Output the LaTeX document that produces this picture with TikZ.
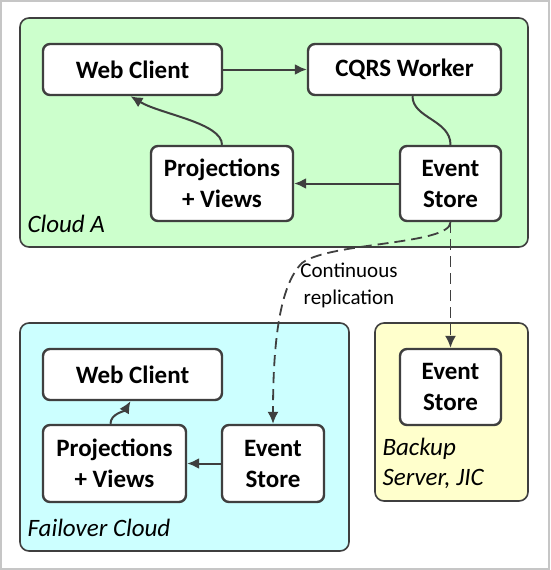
\documentclass[tikz,border=0pt]{standalone}
\usepackage{fontspec}
\setmainfont{Carlito}
\usetikzlibrary{arrows.meta}
\definecolor{linegray}{HTML}{3F3F3F}
\definecolor{cloudgreen}{HTML}{CCFFCC}
\definecolor{cloudcyan}{HTML}{CCFFFF}
\definecolor{backupyellow}{HTML}{FFFFCC}
\begin{document}
\begin{tikzpicture}[x=1pt,y=-1pt,
    box/.style={draw=linegray, line width=2.4pt, rounded corners=7pt, fill=white,
        align=center, inner sep=0pt, font=\bfseries\fontsize{25}{31}\selectfont},
    area/.style={draw=linegray, line width=1.6pt, rounded corners=9pt},
    arealabel/.style={anchor=west, align=left, font=\itshape\fontsize{25}{30}\selectfont},
    conn/.style={draw=linegray, line width=2pt, -{Latex[length=12pt,width=11pt]}},
    dconn/.style={conn, line width=1.8pt, dash pattern=on 11pt off 6pt}]
    \useasboundingbox (0,0) rectangle (550,570);
    \draw[gray!45, line width=2pt] (1,1) rectangle (549,569);
    % Les zones
    \draw[area, fill=cloudgreen] (20,18) rectangle (528,247);
    \draw[area, fill=cloudcyan] (20,323) rectangle (349,551);
    \draw[area, fill=backupyellow] (375,323) rectangle (528,501);
    \node[arealabel] (lblA) at (24,224) {Cloud A};
    \node[arealabel] (lblF) at (24,528) {Failover Cloud};
    \node[arealabel] (lblB) at (379,463) {Backup\\Server, JIC};
    % Cloud A
    \node[box, minimum width=179pt, minimum height=51pt] (webA) at (132.5,69.5) {Web Client};
    \node[box, minimum width=193pt, minimum height=51pt] (cqrs) at (404.5,69.5) {CQRS Worker};
    \node[box, minimum width=142pt, minimum height=75pt] (projA) at (222,183.5) {Projections\\+ Views};
    \node[box, minimum width=101pt, minimum height=75pt] (storeA) at (450.5,183.5) {Event\\Store};
    % Failover Cloud
    \node[box, minimum width=179pt, minimum height=51pt] (webF) at (132.5,374.5) {Web Client};
    \node[box, minimum width=143pt, minimum height=77pt] (projF) at (114.5,463.5) {Projections\\+ Views};
    \node[box, minimum width=102pt, minimum height=77pt] (storeF) at (273,463.5) {Event\\Store};
    % Backup
    \node[box, minimum width=101pt, minimum height=76pt] (storeB) at (450.5,387) {Event\\Store};
    % Liens
    \draw[conn] (webA) -- (cqrs);
    \draw[draw=linegray, line width=2pt] ([xshift=8pt]cqrs.south) .. controls +(0,22) and +(0,-25) .. (storeA.north);
    \draw[conn] (storeA) -- (projA);
    \draw[conn] (projA.north) .. controls +(0,-22) and +(30,18) .. ([xshift=-2pt]webA.south);
    \draw[conn] (storeF) -- (projF);
    \draw[conn] ([xshift=-4pt]projF.north) .. controls +(0,-10) and +(-6,10) .. ([xshift=-2pt]webF.south);
    % Replication
    \draw[dconn] (storeA) -- (storeB);
    \draw[dconn] (storeA.south) .. controls (450,245) and (330,242) .. (302,263)
        .. controls (280,285) and (273,340) .. (storeF.north);
    \node[align=center, font=\fontsize{21}{27}\selectfont] (repl) at (349,285) {Continuous\\replication};
\end{tikzpicture}
\end{document}
